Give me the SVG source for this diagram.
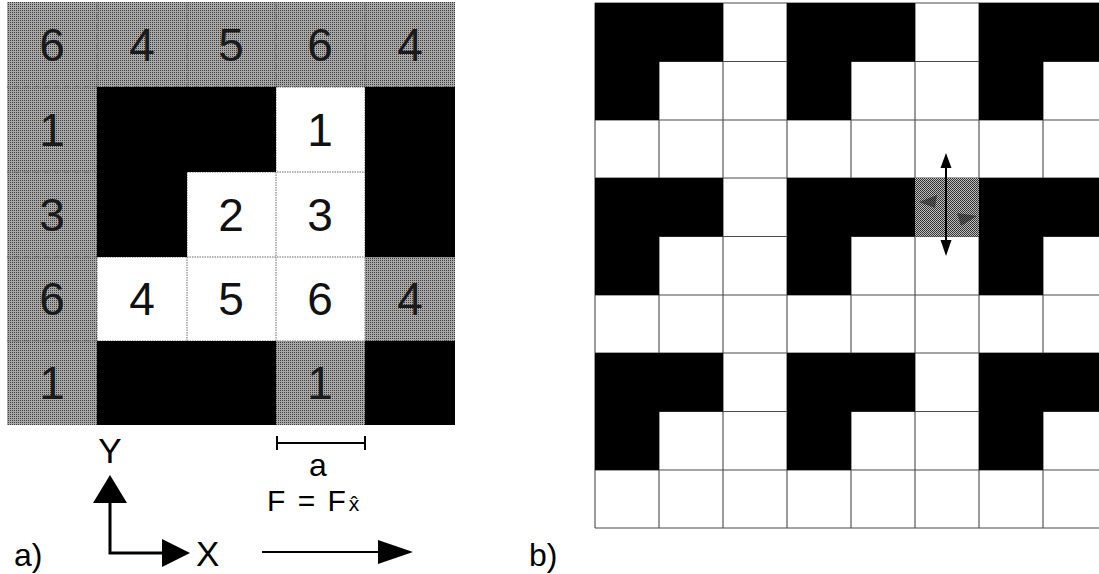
<svg xmlns="http://www.w3.org/2000/svg" width="1099" height="574" viewBox="0 0 1099 574">
<style>
.d{font-family:"Liberation Sans",Arial,sans-serif;font-size:46px;text-anchor:middle;fill:#111}
.dg{fill:#1a1a1a}
.lbl{font-family:"Liberation Sans",Arial,sans-serif;fill:#000}
.gl{stroke:#6a6a6a;stroke-width:1;stroke-dasharray:1.5 1;fill:none}
.gr{stroke:#4a4a4a;stroke-width:1.1;fill:none}
.blk{fill:#000}
.ar{stroke:#000;fill:none}
</style>
<defs>
<pattern id="ht" width="2" height="2" patternUnits="userSpaceOnUse">
<rect width="2" height="2" fill="#a9a9a9"/><rect width="1" height="1" fill="#3a3a3a"/>
</pattern>
<pattern id="ht2" width="2" height="2" patternUnits="userSpaceOnUse">
<rect width="2" height="2" fill="#bdbdbd"/><rect width="1" height="1" fill="#2e2e2e"/><rect x="1" y="1" width="1" height="1" fill="#3a3a3a"/>
</pattern>
</defs>
<rect width="1099" height="574" fill="#fff"/>

<!-- panel a -->
<g id="grid-a">
<rect x="7" y="2" width="448" height="423" fill="url(#ht)"/>
<path d="M276 87H365V172H276Z M187 172H365V257H187Z M97 257H365V341H97Z" fill="#fff"/>
<g class="gl">
<path d="M97 2V425M187 2V425M276 2V425M365 2V425"/>
<path d="M7 87H455M7 172H455M7 257H455M7 341H455"/>
</g>
<path class="blk" d="M97 87H276V172H187V257H97Z"/>
<rect class="blk" x="365" y="87" width="90" height="170"/>
<rect class="blk" x="97" y="341" width="179" height="84"/>
<rect class="blk" x="365" y="341" width="90" height="84"/>
</g>
<g id="cells-a">
<g id="a-r0"><text class="d dg" x="52" y="61">6</text><text class="d dg" x="142" y="61">4</text><text class="d dg" x="231" y="61">5</text><text class="d dg" x="320" y="61">6</text><text class="d dg" x="410" y="61">4</text></g>
<g id="a-r1"><text class="d dg" x="52" y="146">1</text><text class="d" x="320" y="146">1</text></g>
<g id="a-r2"><text class="d dg" x="52" y="231">3</text><text class="d" x="231" y="231">2</text><text class="d" x="320" y="231">3</text></g>
<g id="a-r3"><text class="d dg" x="52" y="315">6</text><text class="d" x="142" y="315">4</text><text class="d" x="231" y="315">5</text><text class="d" x="320" y="315">6</text><text class="d dg" x="410" y="315">4</text></g>
<g id="a-r4"><text class="d dg" x="52" y="399">1</text><text class="d dg" x="320" y="399">1</text></g>
</g>

<g id="scale-bar">
<path class="ar" stroke-width="2" d="M277 443H365M277 436V450M365 436V450"/>
<text class="lbl" x="318" y="476" font-size="32" text-anchor="middle">a</text>
</g>

<g id="connectors">
<polyline class="ar" stroke-width="3" points="110,500 110,553 165,553"/>
<polygon points="110,475 93,503 127,503" fill="#000"/>
<polygon points="190,553 162,539 162,567" fill="#000"/>
<line class="ar" stroke-width="2" x1="262" y1="552" x2="382" y2="552"/>
<polygon points="413,552 378,540 378,564" fill="#000"/>
</g>

<g id="labels-a">
<text class="lbl" x="110" y="463" font-size="35" text-anchor="middle">Y</text>
<text class="lbl" x="196" y="566" font-size="35">X</text>
<text class="lbl" x="267" y="511" font-size="30" word-spacing="4">F = F<tspan font-size="21" dx="3">x&#x302;</tspan></text>
<text class="lbl" x="14" y="566" font-size="32">a)</text>
</g>

<!-- panel b -->
<g id="grid-b">
<g class="gr">
<path d="M595 3V528M659 3V528M723 3V528M787 3V528M851 3V528M915 3V528M979 3V528M1043 3V528"/>
<path d="M595 3H1099M595 61.5H1099M595 120H1099M595 178H1099M595 236.5H1099M595 295H1099M595 353H1099M595 411.5H1099M595 470H1099M595 528H1099"/>
</g>
<g class="blk">
<path d="M595 3H723V61.5H659V120H595Z"/>
<path d="M787 3H915V61.5H851V120H787Z"/>
<path d="M979 3H1107V61.5H1043V120H979Z"/>
<path d="M595 178H723V236.5H659V295H595Z"/>
<path d="M787 178H915V236.5H851V295H787Z"/>
<path d="M979 178H1107V236.5H1043V295H979Z"/>
<path d="M595 353H723V411.5H659V470H595Z"/>
<path d="M787 353H915V411.5H851V470H787Z"/>
<path d="M979 353H1107V411.5H1043V470H979Z"/>
</g>
</g>
<g id="moving-cell">
<rect x="915" y="178" width="64" height="58.5" fill="url(#ht2)"/>
<polygon points="919,202 937,195 935,208" fill="#1a1a1a" opacity="0.55"/>
<polygon points="977,216 957,213 961,226" fill="#1a1a1a" opacity="0.55"/>
<line class="ar" stroke-width="2" x1="946" y1="165" x2="946" y2="243"/>
<polygon points="946,153 940.5,168 951.5,168" fill="#000"/>
<polygon points="946,256 940.5,240 951.5,240" fill="#000"/>
</g>
<g id="labels-b">
<text class="lbl" x="529" y="566" font-size="32">b)</text>
</g>
</svg>
